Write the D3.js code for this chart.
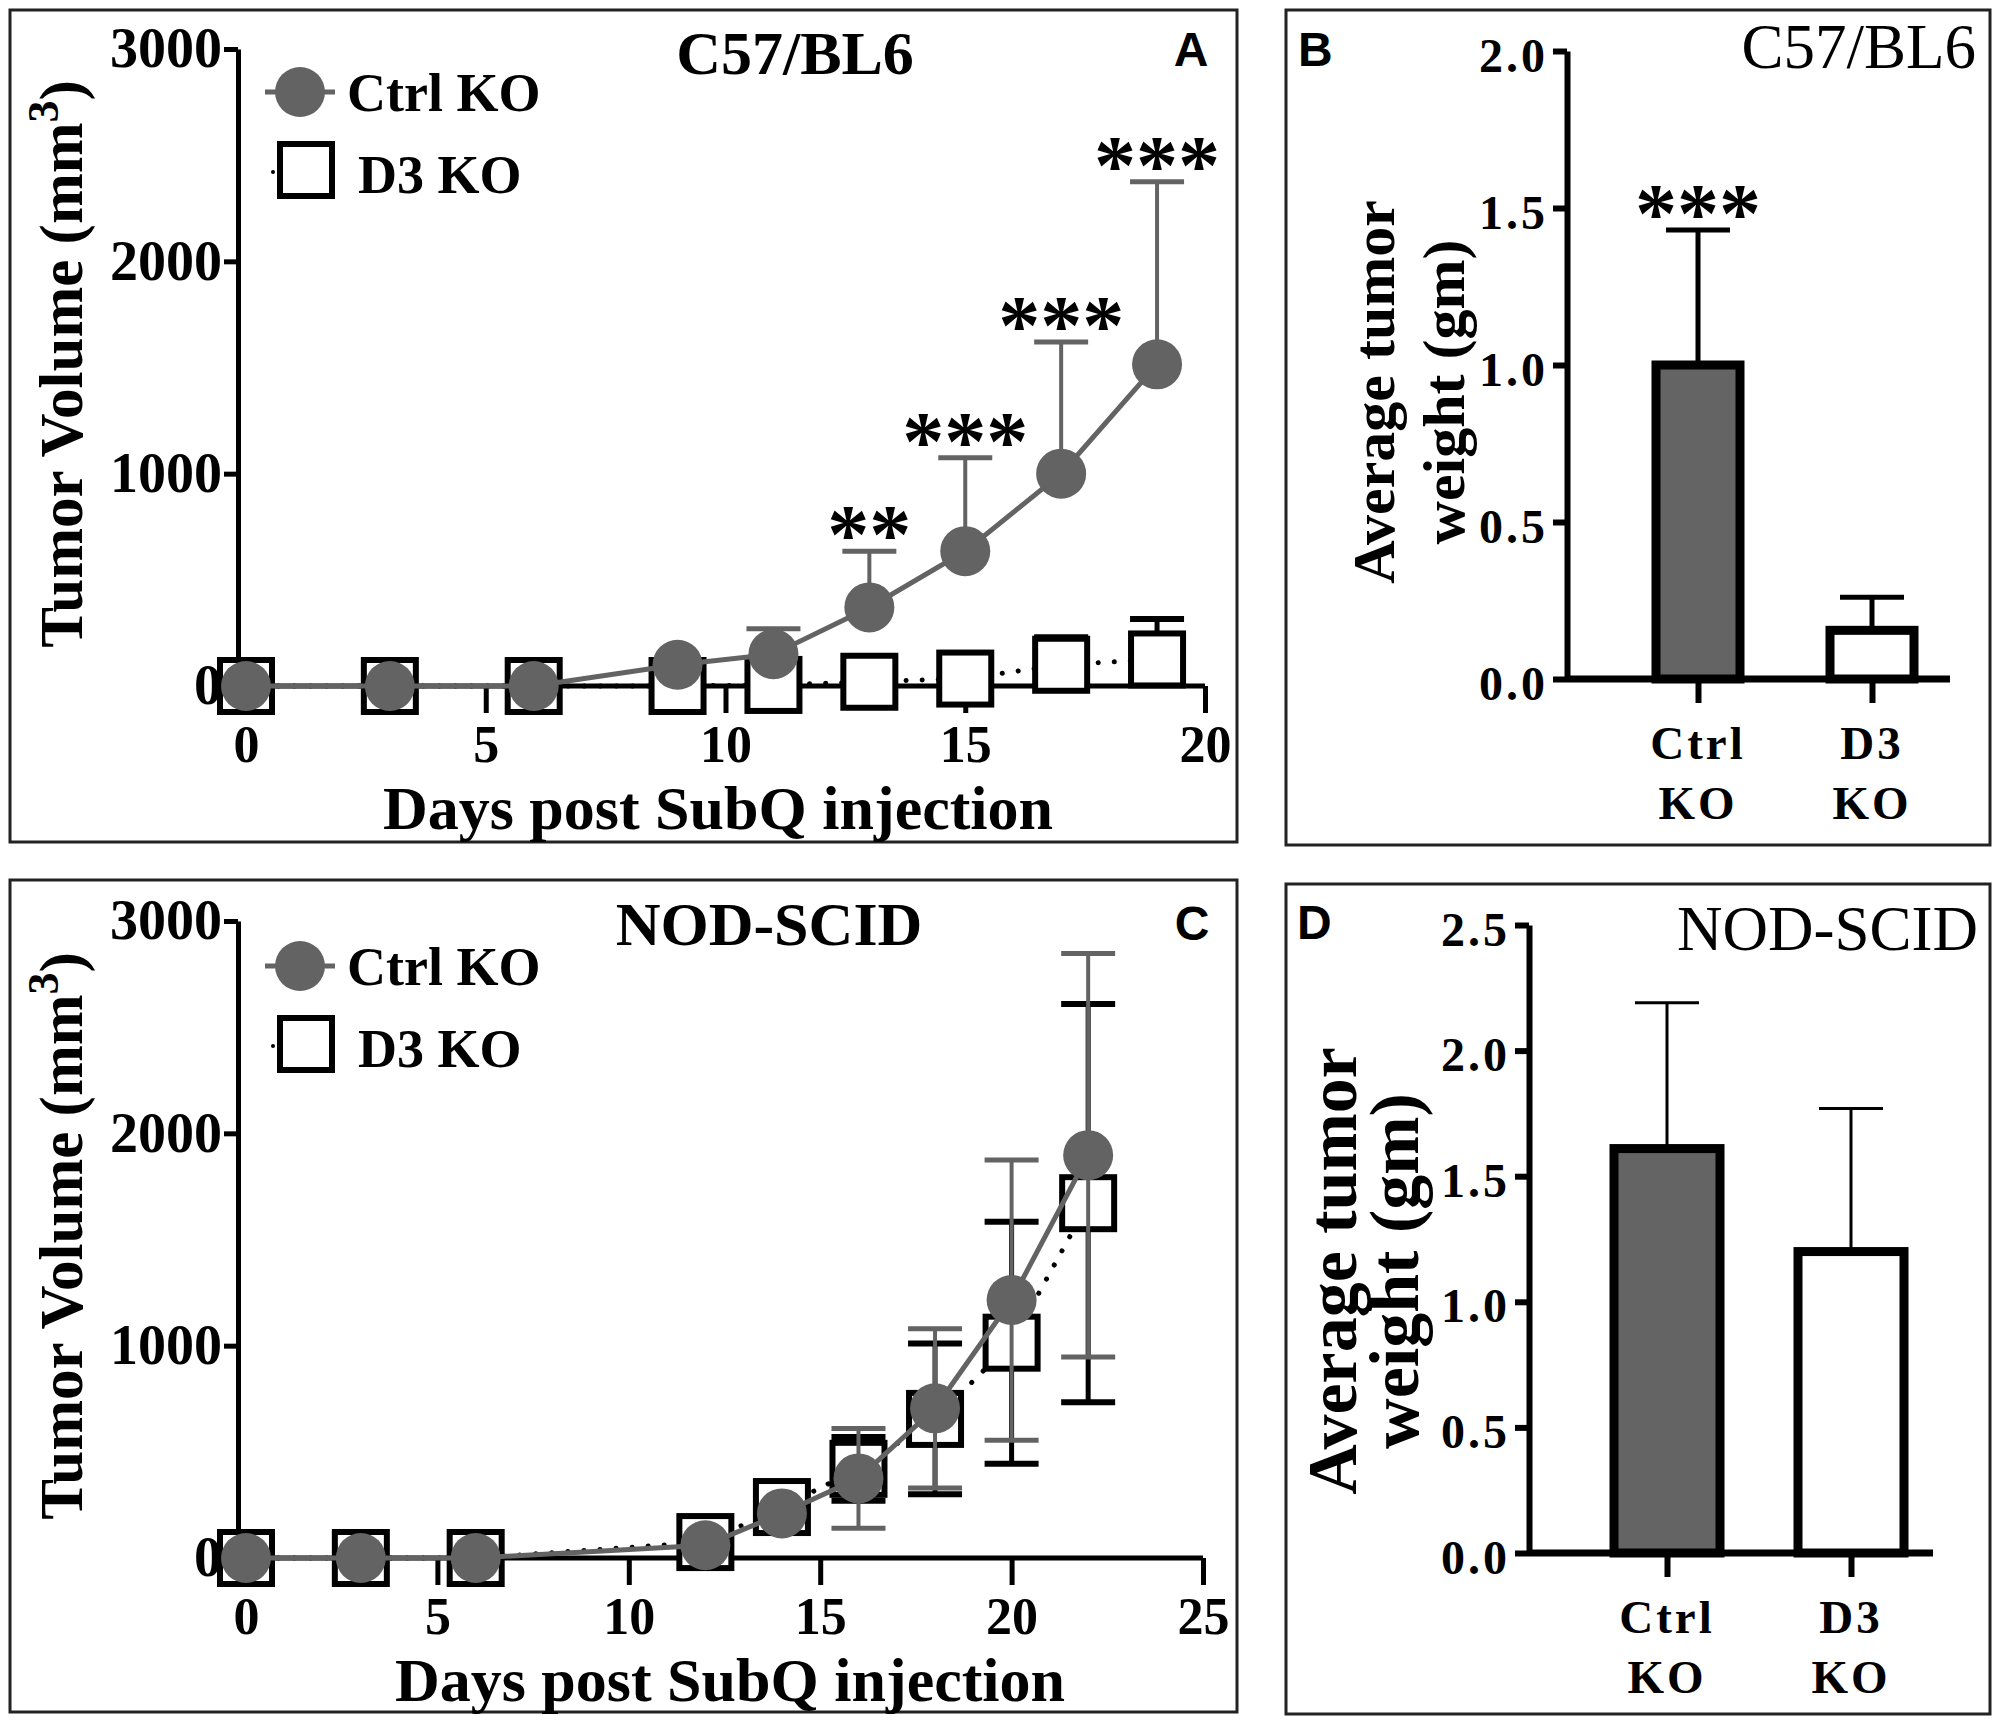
<!DOCTYPE html>
<html>
<head>
<meta charset="utf-8">
<script src="https://cdn.jsdelivr.net/npm/d3@7"></script>
<style>
  body { margin: 0; background: #fff; }
  svg text { font-family: "Liberation Serif", "Times New Roman", serif; }
</style>
</head>
<body>
<svg id="fig" width="2000" height="1724"></svg>
<script>
// panel A, C57/BL6 tumour volume
const daysA = [0, 3, 6, 9, 11, 13, 15, 17, 19];
const ctrlA = [0, 0, 0, 100, 150, 370, 635, 1000, 1515];
const ctrlSdA = [0, 0, 0, 0, 120, 265, 440, 620, 860];
const koA = [0, 0, 0, 0, 5, 20, 35, 100, 125];
const koSdA = [0, 0, 0, 0, 0, 0, 0, 130, 190];
const starsA = ['', '', '', '', '', '**', '***', '***', '***'];

// panel C, NOD-SCID tumour volume
const daysC = [0, 3, 6, 12, 14, 16, 18, 20, 22];
const ctrlC = [0, 0, 0, 60, 210, 375, 705, 1215, 1897];
const ctrlSdC = [0, 0, 0, 0, 0, 235, 375, 660, 950];
const koC = [0, 0, 0, 75, 240, 420, 655, 1014, 1671];
const koSdC = [0, 0, 0, 0, 70, 150, 355, 570, 938];

// panels B and D, tumour weight
const groups = ['Ctrl KO', 'D3 KO'];
const weightB = [1.0, 0.155];
const weightSdB = [0.43, 0.105];
const starsB = ['***', ''];
const weightD = [1.61, 1.2];
const weightSdD = [0.58, 0.57];

const volumeTicks = [0, 1000, 2000, 3000];
const daysTicksA = [0, 5, 10, 15, 20];
const daysTicksC = [0, 5, 10, 15, 20, 25];
const weightTicksB = [0, 0.5, 1.0, 1.5, 2.0];
const weightTicksD = [0, 0.5, 1.0, 1.5, 2.0, 2.5];

const GREY = '#636363';
const svg = d3.select('#fig');

const frame = (x0, y0, x1, y1) => {
  svg.append('rect')
    .attr('x', x0).attr('y', y0)
    .attr('width', x1 - x0).attr('height', y1 - y0)
    .attr('fill', 'none').attr('stroke', '#222').attr('stroke-width', 3);
};

const label = (g, txt, x, y, size, opts = {}) => {
  return g.append('text')
    .attr('x', x).attr('y', y)
    .attr('font-size', size)
    .attr('font-weight', opts.weight || 'bold')
    .attr('text-anchor', opts.anchor || 'start')
    .attr('letter-spacing', opts.spacing || 0)
    .style('font-family', opts.family || null)
    .attr('fill', '#000')
    .text(txt);
};

const styleAxis = (g, size, width) => {
  g.attr('font-family', null).attr('font-size', size).attr('font-weight', 'bold');
  g.selectAll('path, line').attr('stroke', '#000').attr('stroke-width', width);
  g.selectAll('text').attr('fill', '#000');
};

const errorBars = (g, days, mean, sd, x, y, color, both, width, cap) => {
  const rows = days.map((d, i) => ({ d, m: mean[i], s: sd[i] })).filter(r => r.s > 0);
  rows.forEach(r => {
    const lo = both ? r.m - r.s : r.m;
    const hi = r.m + r.s;
    g.append('line')
      .attr('x1', x(r.d)).attr('x2', x(r.d))
      .attr('y1', y(lo)).attr('y2', y(hi))
      .attr('stroke', color).attr('stroke-width', width);
    const caps = both ? [hi, lo] : [hi];
    caps.forEach(v => {
      g.append('line')
        .attr('x1', x(r.d) - cap / 2).attr('x2', x(r.d) + cap / 2)
        .attr('y1', y(v)).attr('y2', y(v))
        .attr('stroke', color).attr('stroke-width', width + 1);
    });
  });
};

const stars = (g, txt, x, capY) => {
  label(g, txt, x, capY + 12, 84, { anchor: 'middle' });
};

const linePanel = cfg => {
  frame(...cfg.frame);
  const g = svg.append('g');
  const x = d3.scaleLinear().domain(cfg.xDomain).range(cfg.xRange);
  const y = d3.scaleLinear().domain([0, 3000]).range(cfg.yRange);

  // x axis line starts at the y axis
  g.append('line')
    .attr('x1', cfg.axisX).attr('x2', cfg.xRange[1])
    .attr('y1', cfg.yRange[0]).attr('y2', cfg.yRange[0])
    .attr('stroke', '#000').attr('stroke-width', 5);
  g.append('g')
    .attr('transform', `translate(0,${cfg.yRange[0]})`)
    .call(d3.axisBottom(x).tickValues(cfg.xTicks).tickSize(27).tickSizeOuter(0).tickPadding(12))
    .call(a => { styleAxis(a, 52, 5); a.select('.domain').remove(); });

  g.append('g')
    .attr('transform', `translate(${cfg.axisX},0)`)
    .call(d3.axisLeft(y).tickValues(volumeTicks).tickFormat(d3.format('d'))
      .tickSize(14).tickSizeOuter(0).tickPadding(2))
    .call(a => styleAxis(a, 56, 5));

  const line = d3.line().x(d => x(d[0])).y(d => y(d[1]));

  // D3 KO series underneath
  errorBars(g, cfg.days, cfg.ko, cfg.koSd, x, y, '#000', cfg.both, 5, 54);
  g.append('path')
    .attr('d', line(cfg.days.map((d, i) => [d, cfg.ko[i]])))
    .attr('fill', 'none').attr('stroke', '#000').attr('stroke-width', 5)
    .attr('stroke-linecap', 'round').attr('stroke-dasharray', '0.1 16');
  g.selectAll(null).data(cfg.days).enter().append('rect')
    .attr('x', (d, i) => x(d) - 26).attr('y', (d, i) => y(cfg.ko[i]) - 26)
    .attr('width', 52).attr('height', 52)
    .attr('fill', '#fff').attr('stroke', '#000').attr('stroke-width', 6);

  // Ctrl KO series on top
  errorBars(g, cfg.days, cfg.ctrl, cfg.ctrlSd, x, y, GREY, cfg.both, 4, 54);
  g.append('path')
    .attr('d', line(cfg.days.map((d, i) => [d, cfg.ctrl[i]])))
    .attr('fill', 'none').attr('stroke', GREY).attr('stroke-width', 5);
  g.selectAll(null).data(cfg.days).enter().append('circle')
    .attr('cx', d => x(d)).attr('cy', (d, i) => y(cfg.ctrl[i]))
    .attr('r', 25).attr('fill', GREY);

  if (cfg.stars) {
    cfg.days.forEach((d, i) => {
      if (cfg.stars[i]) stars(g, cfg.stars[i], x(d), y(cfg.ctrl[i] + cfg.ctrlSd[i]));
    });
  }

  // legend
  const [lx, ly] = cfg.legend;
  g.append('line').attr('x1', lx - 35).attr('x2', lx + 35).attr('y1', ly).attr('y2', ly)
    .attr('stroke', GREY).attr('stroke-width', 5);
  g.append('circle').attr('cx', lx).attr('cy', ly).attr('r', 25).attr('fill', GREY);
  label(g, 'Ctrl KO', lx + 47, ly + 19, 54);
  g.append('circle').attr('cx', lx - 27).attr('cy', ly + 80).attr('r', 2).attr('fill', '#000');
  g.append('rect').attr('x', lx - 20).attr('y', ly + 52).attr('width', 52).attr('height', 52)
    .attr('fill', '#fff').attr('stroke', '#000').attr('stroke-width', 6);
  label(g, 'D3 KO', lx + 58, ly + 101, 54);

  // titles
  label(g, cfg.title, cfg.titlePos[0], cfg.titlePos[1], 62, { anchor: 'middle' });
  label(g, cfg.letter, cfg.letterPos[0], cfg.letterPos[1], 48,
    { anchor: 'middle', family: '"Liberation Sans", Arial, sans-serif' });
  label(g, 'Days post SubQ injection', cfg.xTitle[0], cfg.xTitle[1], 62, { anchor: 'middle' });

  const yt = g.append('text')
    .attr('transform', `translate(${cfg.yTitle[0]},${cfg.yTitle[1]}) rotate(-90)`)
    .attr('text-anchor', 'middle').attr('font-size', 61).attr('font-weight', 'bold');
  yt.append('tspan').text('Tumor Volume (mm');
  yt.append('tspan').attr('dy', -24).attr('font-size', 44).text('3');
  yt.append('tspan').attr('dy', 24).text(')');
};

const barPanel = cfg => {
  frame(...cfg.frame);
  const g = svg.append('g');
  const x = d3.scalePoint().domain(groups).range(cfg.centers);
  const y = d3.scaleLinear().domain(cfg.yDomain).range(cfg.yRange);
  const y0 = cfg.yRange[0];

  g.append('line')
    .attr('x1', cfg.axisX).attr('x2', cfg.axisEnd).attr('y1', y0).attr('y2', y0)
    .attr('stroke', '#000').attr('stroke-width', 7);
  g.append('g')
    .attr('transform', `translate(0,${y0})`)
    .call(d3.axisBottom(x).tickSize(24).tickFormat(''))
    .call(a => { styleAxis(a, 47, 6); a.select('.domain').remove(); });

  g.append('g')
    .attr('transform', `translate(${cfg.axisX},0)`)
    .call(d3.axisLeft(y).tickValues(cfg.yTicks).tickFormat(d3.format('.1f'))
      .tickSize(14).tickSizeOuter(0).tickPadding(5))
    .call(a => { styleAxis(a, 48, 6); a.selectAll('text').attr('letter-spacing', 3).attr('dy', '0.42em'); });

  groups.forEach((grp, i) => {
    const cx = x(grp);
    const top = y(cfg.values[i]);
    const hi = y(cfg.values[i] + cfg.sd[i]);
    g.append('line').attr('x1', cx).attr('x2', cx).attr('y1', top).attr('y2', hi)
      .attr('stroke', '#000').attr('stroke-width', cfg.errWidth);
    g.append('line').attr('x1', cx - cfg.cap / 2).attr('x2', cx + cfg.cap / 2)
      .attr('y1', hi).attr('y2', hi)
      .attr('stroke', '#000').attr('stroke-width', cfg.errWidth);
    g.append('rect')
      .attr('x', cx - cfg.barWidth / 2).attr('y', top)
      .attr('width', cfg.barWidth).attr('height', y0 - top)
      .attr('fill', i === 0 ? '#646464' : '#fff')
      .attr('stroke', '#000').attr('stroke-width', 9);
    if (cfg.stars && cfg.stars[i]) stars(g, cfg.stars[i], cx, hi);
    const parts = grp.split(' ');
    label(g, parts[0], cx, cfg.xLabelY[0], 47, { anchor: 'middle', spacing: 3 });
    label(g, parts[1], cx, cfg.xLabelY[1], 47, { anchor: 'middle', spacing: 3 });
  });

  label(g, cfg.title, cfg.titlePos[0], cfg.titlePos[1], 63, { anchor: 'end', weight: 'normal' });
  label(g, cfg.letter, cfg.letterPos[0], cfg.letterPos[1], 48,
    { family: '"Liberation Sans", Arial, sans-serif' });

  ['Average tumor', 'weight (gm)'].forEach((t, i) => {
    g.append('text')
      .attr('transform', `translate(${cfg.yTitleX[i]},${cfg.yTitleY}) rotate(-90)`)
      .attr('text-anchor', 'middle').attr('font-size', cfg.yTitleSize).attr('font-weight', 'bold')
      .text(t);
  });
};

linePanel({
  frame: [10, 10, 1237, 842],
  days: daysA, ctrl: ctrlA, ctrlSd: ctrlSdA, ko: koA, koSd: koSdA, both: false,
  stars: starsA,
  axisX: 238, xDomain: [0, 20], xRange: [246, 1205], xTicks: daysTicksA, yRange: [686, 49],
  legend: [300, 92],
  title: 'C57/BL6', titlePos: [795, 74],
  letter: 'A', letterPos: [1191, 66],
  xTitle: [718, 829], yTitle: [82, 364]
});

linePanel({
  frame: [10, 880, 1237, 1712],
  days: daysC, ctrl: ctrlC, ctrlSd: ctrlSdC, ko: koC, koSd: koSdC, both: true,
  axisX: 238, xDomain: [0, 25], xRange: [246, 1203], xTicks: daysTicksC, yRange: [1558, 921],
  legend: [300, 966],
  title: 'NOD-SCID', titlePos: [769, 945],
  letter: 'C', letterPos: [1192, 940],
  xTitle: [730, 1701], yTitle: [82, 1236]
});

barPanel({
  frame: [1286, 10, 1990, 845],
  values: weightB, sd: weightSdB, stars: starsB,
  yDomain: [0, 2], yRange: [679, 51], yTicks: weightTicksB,
  axisX: 1567, axisEnd: 1950, centers: [1698, 1872], barWidth: 84,
  errWidth: 5, cap: 64,
  xLabelY: [759, 819],
  title: 'C57/BL6', titlePos: [1976, 68],
  letter: 'B', letterPos: [1298, 66],
  yTitleX: [1394, 1464], yTitleY: 392, yTitleSize: 60
});

barPanel({
  frame: [1286, 884, 1990, 1714],
  values: weightD, sd: weightSdD,
  yDomain: [0, 2.5], yRange: [1553, 925], yTicks: weightTicksD,
  axisX: 1529, axisEnd: 1933, centers: [1667, 1851], barWidth: 106,
  errWidth: 3, cap: 64,
  xLabelY: [1633, 1693],
  title: 'NOD-SCID', titlePos: [1978, 950],
  letter: 'D', letterPos: [1297, 939],
  yTitleX: [1356, 1418], yTitleY: 1271, yTitleSize: 70
});
</script>
</body>
</html>
